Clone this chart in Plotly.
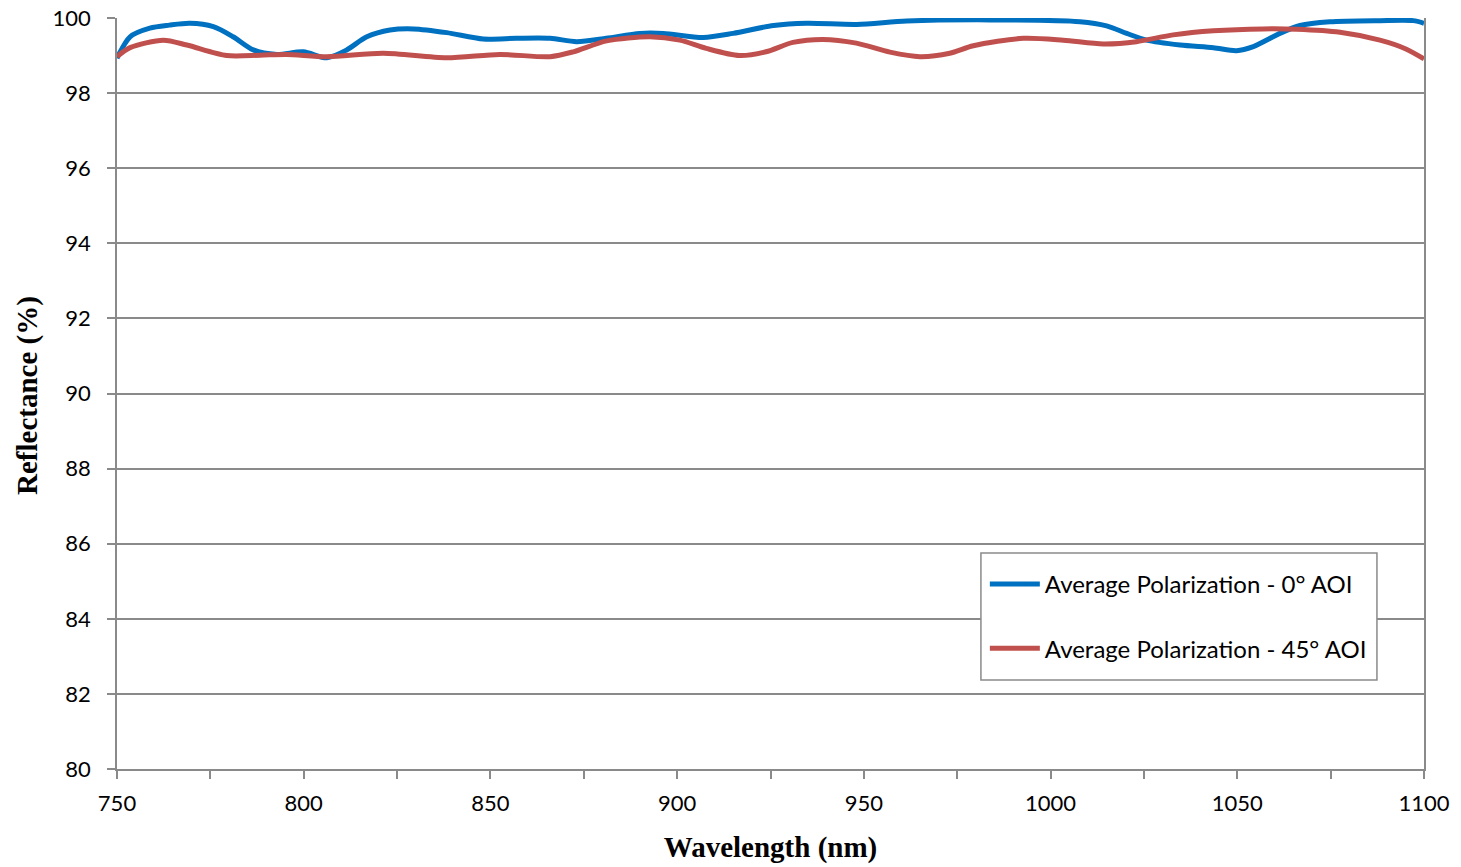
import plotly.graph_objects as go

# Average Polarization - 0° AOI
wl_0 = [750, 753.5, 758.8, 764, 769.5, 775.8, 781.1, 786.5, 792.8, 799.9, 806.2, 811.5,
        816.9, 823.1, 829.4, 838.3, 848.1, 857, 866, 873.1, 881, 890, 896.3, 907, 915,
        925.8, 934.7, 948.1, 961.5, 983.8, 1007.9, 1015, 1020.4, 1025.7, 1034.7, 1043.6,
        1049.8, 1054.3, 1061.4, 1066.8, 1074.8, 1088.2, 1097.1, 1100]
r_0 = [98.93, 99.50, 99.73, 99.81, 99.86, 99.77, 99.50, 99.15, 99.03, 99.10, 98.94, 99.15,
       99.50, 99.68, 99.71, 99.61, 99.44, 99.46, 99.46, 99.37, 99.46, 99.59, 99.59, 99.48, 99.59,
       99.80, 99.86, 99.83, 99.92, 99.95, 99.90, 99.79, 99.59, 99.41, 99.28, 99.21,
       99.13, 99.24, 99.59, 99.80, 99.90, 99.93, 99.93, 99.86]

# Average Polarization - 45° AOI
wl_45 = [750, 753.5, 762.4, 768.7, 779.4, 788.3, 795.4, 806.2, 821.3, 838.3, 852.5, 866,
         872.2, 881.1, 892.7, 900.7, 907.8, 916.7, 923.8, 931, 939, 948, 957, 965, 973,
         979.3, 992.7, 1003.4, 1014.1, 1023, 1032.8, 1043.6, 1056.9, 1065.9, 1077.5,
         1088.2, 1095.3, 1100]
r_45 = [98.97, 99.21, 99.41, 99.28, 99.00, 99.01, 99.03, 98.97, 99.06, 98.94, 99.03, 98.97,
        99.10, 99.39, 99.50, 99.41, 99.19, 99.00, 99.10, 99.35, 99.43, 99.33, 99.09, 98.97, 99.06,
        99.26, 99.46, 99.41, 99.31, 99.37, 99.55, 99.66, 99.71, 99.70, 99.62,
        99.41, 99.17, 98.91]

x_tickvals = [750, 800, 850, 900, 950, 1000, 1050, 1100]
y_tickvals = [80, 82, 84, 86, 88, 90, 92, 94, 96, 98, 100]

grid = "#8a8a8a"
fig = go.Figure()
fig.add_trace(go.Scatter(x=wl_0, y=r_0, mode="lines", name="Average Polarization - 0° AOI",
                         line=dict(color="#0070C0", width=5, shape="spline", smoothing=0.8),
                         legendgroup="a"))
fig.add_trace(go.Scatter(x=wl_45, y=r_45, mode="lines", name="Average Polarization - 45° AOI",
                         line=dict(color="#C0504D", width=5, shape="spline", smoothing=0.8),
                         legendgroup="b"))

# legend frame (drawn as a box so its padding can match)
fig.add_shape(type="rect", xref="paper", yref="paper",
              x0=0.661, x1=0.964, y0=0.1185, y1=0.2876,
              line=dict(color=grid, width=1.5), fillcolor="white", layer="above")

# y-axis title placed as an annotation for exact position
fig.add_annotation(text="<b>Reflectance (%)</b>", xref="paper", yref="paper",
                   x=-0.0689, y=0.498, xanchor="center", yanchor="middle",
                   textangle=-90, showarrow=False,
                   font=dict(family="Liberation Serif", size=29, color="black"))

fig.update_layout(
    width=1461, height=867,
    margin=dict(l=117, r=37, t=18, b=98, autoexpand=False),
    plot_bgcolor="white", paper_bgcolor="white",
    font=dict(family="Lato, Open Sans, sans-serif", size=22, color="black"),
    showlegend=True,
    legend=dict(x=0.664, y=0.2756, xanchor="left", yanchor="top",
                bgcolor="rgba(0,0,0,0)", borderwidth=0,
                font=dict(size=24), tracegroupgap=30,
                itemwidth=50),
)
fig.update_xaxes(range=[750, 1100], tickvals=x_tickvals, ticks="outside", ticklen=8,
                 tickcolor=grid, tickwidth=1.5, automargin=False, ticklabelstandoff=6,
                 ticklabeloverflow="allow",
                 minor=dict(dtick=25, tick0=750, ticks="outside", ticklen=8, tickcolor=grid,
                            tickwidth=1.5, showgrid=False),
                 showline=True, linecolor=grid, linewidth=1.5, showgrid=False, zeroline=False,
                 title=dict(text="<b>Wavelength (nm)</b>", standoff=22,
                            font=dict(family="Liberation Serif", size=29, color="black")))
fig.update_yaxes(range=[80, 100], tickvals=y_tickvals, ticks="outside", ticklen=8,
                 tickcolor=grid, tickwidth=1.5, automargin=False, ticklabelstandoff=12,
                 ticklabeloverflow="allow",
                 showline=True, linecolor=grid, linewidth=1.5, mirror=True,
                 showgrid=True, gridcolor=grid, gridwidth=1.5, zeroline=False)

fig.write_html("out.html", config={"displayModeBar": False},
               post_script="document.body.style.margin='0';")
